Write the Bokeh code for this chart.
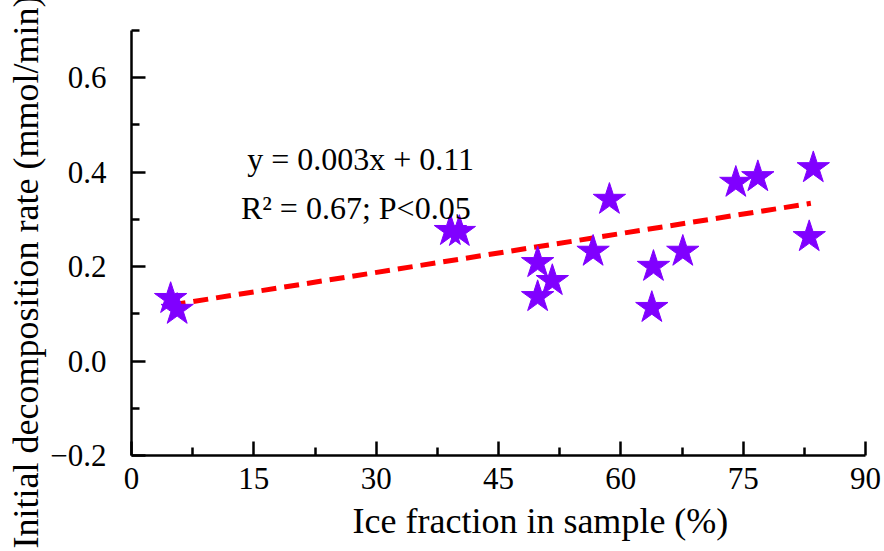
from bokeh.plotting import figure
from bokeh.models import (Range1d, FixedTicker, CustomJSTickFormatter, Label,
                          ColumnDataSource, Title)
from bokeh.embed import file_html
from bokeh.resources import INLINE

# ---- data ----
ice_fraction = [4.8, 5.6, 39.1, 40.2, 49.8, 49.8, 51.6, 56.6, 58.6,
                64.0, 63.8, 67.6, 74.1, 76.8, 83.6, 83.1]
decomp_rate = [0.132, 0.109, 0.276, 0.274, 0.208, 0.136, 0.170, 0.232, 0.342,
               0.200, 0.113, 0.232, 0.378, 0.390, 0.409, 0.263]

fit_x = [4.8, 83.3]
fit_y = [0.1185, 0.334]

x_ticks = [0, 15, 30, 45, 60, 75, 90]
x_minor = [7.5, 22.5, 37.5, 52.5, 67.5, 82.5]
y_ticks = [-0.2, 0.0, 0.2, 0.4, 0.6]
y_minor = [-0.1, 0.1, 0.3, 0.5, 0.7]

eq_text = "y = 0.003x + 0.11"
stat_text = "R\u00b2 = 0.67; P<0.05"
x_title = "Ice fraction in sample (%)"
y_title = "Initial decomposition rate (mmol/min)"

FONT = "Liberation Serif"

p = figure(width=884, height=551, output_backend="svg", toolbar_location=None,
           x_range=Range1d(0, 90), y_range=Range1d(-0.2, 0.7),
           min_border_left=131, min_border_right=19, min_border_top=30,
           min_border_bottom=96)
p.outline_line_color = None
p.xgrid.visible = False
p.ygrid.visible = False
p.background_fill_color = "white"
p.border_fill_color = "white"

p.xaxis.ticker = FixedTicker(ticks=x_ticks, minor_ticks=x_minor)
p.yaxis.ticker = FixedTicker(ticks=y_ticks, minor_ticks=y_minor)
p.yaxis.formatter = CustomJSTickFormatter(
    code="return tick.toFixed(1).replace('-', '\u2212');")

for ax in (p.xaxis, p.yaxis):
    ax.axis_line_width = 2.5
    ax.axis_line_color = "black"
    ax.major_tick_line_width = 2.5
    ax.minor_tick_line_width = 2.5
    ax.major_tick_line_color = "black"
    ax.minor_tick_line_color = "black"
    ax.major_tick_in = 14
    ax.major_tick_out = 0
    ax.minor_tick_in = 8
    ax.minor_tick_out = 0
    ax.major_label_text_font = FONT
    ax.major_label_text_font_size = "31px"
    ax.major_label_text_color = "black"

p.xaxis.major_label_standoff = 12
p.yaxis.major_label_standoff = 25

# axis titles (shifted along the axis like the reference)
p.add_layout(Title(text=x_title, align="left", offset=221,
                   text_font=FONT, text_font_size="36px",
                   text_font_style="normal", text_color="black",
                   standoff=14), "below")
p.add_layout(Title(text=y_title, align="left", offset=-93,
                   text_font=FONT, text_font_size="36px",
                   text_font_style="normal", text_color="black",
                   standoff=4), "left")

src = ColumnDataSource(dict(x=ice_fraction, y=decomp_rate))
p.line(fit_x, fit_y, line_color="#ff0000", line_width=5, line_dash="15 8")
p.scatter("x", "y", source=src, marker="star", size=34,
          fill_color="#8000ff", line_color="#8000ff", line_width=1)

p.add_layout(Label(x=28.1, y=0.4275, text=eq_text, text_font=FONT,
                   text_font_size="32px", text_align="center",
                   text_baseline="alphabetic", text_color="black"))
p.add_layout(Label(x=27.5, y=0.324, text=stat_text, text_font=FONT,
                   text_font_size="32px", text_align="center",
                   text_baseline="alphabetic", text_color="black"))

open("out.html", "w").write(file_html(p, INLINE))
